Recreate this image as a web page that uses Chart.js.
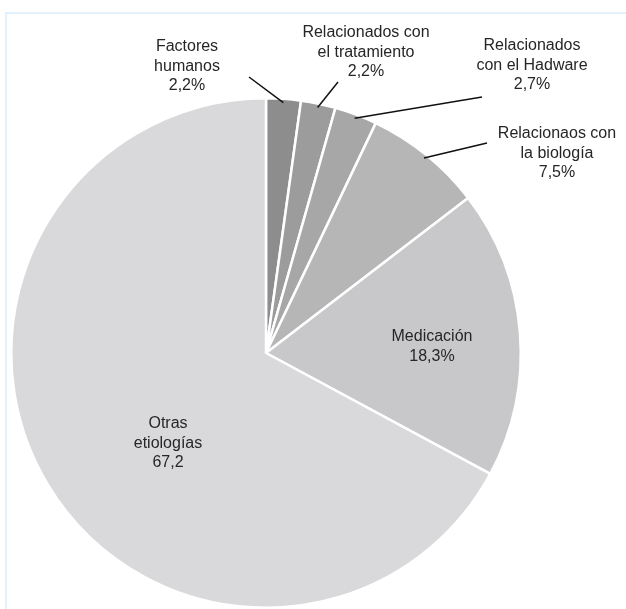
<!DOCTYPE html>
<html>
<head>
<meta charset="utf-8">
<script src="https://cdn.jsdelivr.net/npm/chart.js@4"></script>
<style>
    html, body { margin: 0; padding: 0; background: #ffffff; }
    #wrap { position: relative; width: 626px; height: 609px; }
    #frame {
        position: absolute; left: 5px; top: 12px; right: 0; bottom: 0;
        border-top: 2px solid #e2f1fb; border-left: 2px solid #e2f1fb;
    }
    #ChartPie { position: absolute; left: 0; top: 0; }
</style>
</head>
<body>
<div id="wrap">
    <div id="frame"></div>
    <canvas id="ChartPie" width="626" height="609"></canvas>
</div>
<script>
const categories = [
    'Factores humanos',
    'Relacionados con el tratamiento',
    'Relacionados con el Hadware',
    'Relacionaos con la biología',
    'Medicación',
    'Otras etiologías'
];
const values = [2.2, 2.2, 2.7, 7.5, 18.3, 67.2];
const valueLabels = ['2,2%', '2,2%', '2,7%', '7,5%', '18,3%', '67,2'];
const labelLines = [
    ['Factores', 'humanos'],
    ['Relacionados con', 'el tratamiento'],
    ['Relacionados', 'con el Hadware'],
    ['Relacionaos con', 'la biología'],
    ['Medicación'],
    ['Otras', 'etiologías']
];
const sliceColors = ['#8d8d8d', '#9c9c9c', '#a7a7a7', '#b6b6b6', '#c8c8ca', '#d9d9db'];

// where each label block sits, and where its leader line starts (null = inside the slice)
const labelPlace = [
    {x: 187, y: 47, line: [249, 77]},
    {x: 366, y: 33, line: [338, 82]},
    {x: 532, y: 46, line: [482, 97]},
    {x: 557, y: 134, line: [487, 143]},
    {x: 432, y: 337, line: null},
    {x: 168, y: 424, line: null}
];

const sliceLabels = {
    id: 'sliceLabels',
    afterDatasetsDraw(chart) {
        const ctx = chart.ctx;
        const arcs = chart.getDatasetMeta(0).data;
        ctx.save();
        arcs.forEach((arc, i) => {
            const place = labelPlace[i];
            if (place.line) {
                const mid = (arc.startAngle + arc.endAngle) / 2;
                const r = arc.outerRadius * 0.985;
                ctx.beginPath();
                ctx.moveTo(place.line[0], place.line[1]);
                ctx.lineTo(arc.x + Math.cos(mid) * r, arc.y + Math.sin(mid) * r);
                ctx.strokeStyle = '#111111';
                ctx.lineWidth = 1.5;
                ctx.stroke();
            }
            const lines = labelLines[i].concat([valueLabels[i]]);
            ctx.fillStyle = '#262626';
            ctx.font = '16px "Liberation Sans", Arial, sans-serif';
            ctx.textAlign = 'center';
            ctx.textBaseline = 'middle';
            lines.forEach((t, k) => {
                ctx.fillText(t, place.x, place.y + k * 19.5);
            });
        });
        ctx.restore();
    }
};

new Chart(document.getElementById('ChartPie'), {
    type: 'pie',
    data: {
        labels: categories,
        datasets: [{
            data: values,
            backgroundColor: sliceColors,
            borderColor: '#ffffff',
            borderWidth: 2.5
        }]
    },
    options: {
        responsive: false,
        animation: false,
        layout: {
            padding: {left: 0, right: 94, top: 97, bottom: 0}
        },
        plugins: {
            legend: {display: false},
            tooltip: {enabled: false}
        }
    },
    plugins: [sliceLabels]
});
</script>
</body>
</html>
